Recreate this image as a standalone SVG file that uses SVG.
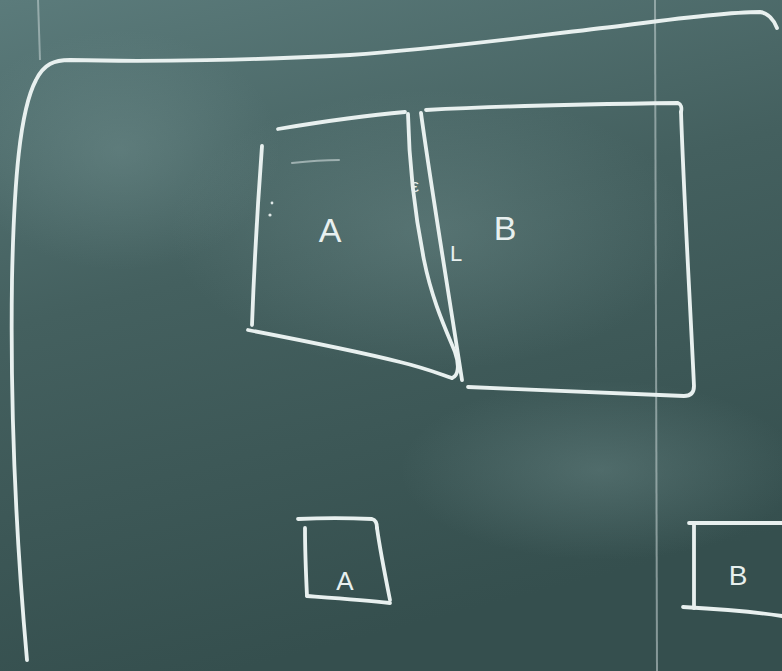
<svg xmlns="http://www.w3.org/2000/svg" width="782" height="671" viewBox="0 0 782 671">
<defs>
<linearGradient id="bg" x1="0" y1="0" x2="0.3" y2="1">
<stop offset="0" stop-color="#5b7b7b"/>
<stop offset="0.45" stop-color="#44605f"/>
<stop offset="1" stop-color="#354f4e"/>
</linearGradient>
<radialGradient id="smudge" cx="0.5" cy="0.5" r="0.5">
<stop offset="0" stop-color="#7a9897" stop-opacity="0.35"/>
<stop offset="1" stop-color="#7a9897" stop-opacity="0"/>
</radialGradient>
<filter id="soft" filterUnits="userSpaceOnUse" x="0" y="0" width="782" height="671"><feGaussianBlur stdDeviation="0.6"/></filter>
</defs>
<style>
.ch{fill:none;stroke:#e8f0ef;stroke-width:3.8;stroke-linecap:round;stroke-linejoin:round;filter:url(#soft)}
.thin{fill:none;stroke:#dfe8e7;stroke-width:2;stroke-linecap:round;filter:url(#soft)}
.seam{fill:none;stroke:#c9d6d5;stroke-opacity:0.55;stroke-width:2}
.lbl{font-family:"Liberation Sans",Arial,sans-serif;fill:#e8f0ef}
</style>
<rect width="782" height="671" fill="url(#bg)"/>
<ellipse cx="430" cy="230" rx="260" ry="140" fill="url(#smudge)"/>
<ellipse cx="120" cy="150" rx="160" ry="120" fill="url(#smudge)"/>
<ellipse cx="600" cy="470" rx="200" ry="90" fill="url(#smudge)"/>
<path class="seam" d="M655 0 L657 671"/>
<path class="seam" d="M38 0 L40 60" stroke-opacity="0.3"/>

<g id="frame">
<path class="ch" d="M27 660 C18 560 10 420 12 280 C14 180 20 110 36 80 C44 64 54 60 70 60 C150 62 260 60 350 55 C450 48 540 35 620 26 C680 18 730 12 760 12 C768 13 774 20 777 28"/>
</g>

<g id="boxA">
<path class="ch" d="M278 129 C320 122 370 115 405 112"/>
<path class="ch" d="M262 146 C258 200 254 270 252 325"/>
<path class="ch" d="M408 114 C409 160 414 210 424 260 C432 300 446 330 455 352 C460 366 458 376 452 378"/>
<path class="ch" d="M248 330 C300 340 360 352 400 362 C425 368 440 374 452 378"/>
<path class="thin" d="M292 163 C310 161 325 160 339 160" stroke-opacity="0.55"/>
<text class="lbl" x="330" y="242" font-size="34" text-anchor="middle">A</text>
<circle cx="272" cy="203" r="1.4" fill="#dfe8e7"/>
<circle cx="270" cy="215" r="1.6" fill="#dfe8e7"/>
<text class="lbl" x="415" y="192" font-size="18" text-anchor="middle">ε</text>
</g>

<g id="boxB">
<path class="ch" d="M426 110 C500 106 600 104 678 103 C681 104 682 108 681 112"/>
<path class="ch" d="M421 113 C430 180 445 270 462 380"/>
<path class="ch" d="M681 112 C684 200 690 300 694 386 C694 393 690 396 684 396 C620 394 540 390 468 387"/>
<text class="lbl" x="505" y="240" font-size="34" text-anchor="middle">B</text>
<text class="lbl" x="456" y="261" font-size="22" text-anchor="middle">L</text>
</g>

<g id="boxA-small">
<path class="ch" d="M298 519 C320 518 350 518 372 519 C376 520 377 524 377 528"/>
<path class="ch" d="M305 528 C305 550 306 575 307 596"/>
<path class="ch" d="M377 528 C380 550 385 575 390 600"/>
<path class="ch" d="M307 596 C335 598 365 600 390 603"/>
<text class="lbl" x="345" y="590" font-size="26" text-anchor="middle">A</text>
</g>

<g id="boxB-small">
<path class="ch" d="M689 523 C720 523 755 523 782 523"/>
<path class="ch" d="M694 525 C694 555 694 585 694 608"/>
<path class="ch" d="M683 607 C720 609 755 612 782 616"/>
<text class="lbl" x="738" y="585" font-size="28" text-anchor="middle">B</text>
</g>

<g id="connectors"></g>
</svg>
